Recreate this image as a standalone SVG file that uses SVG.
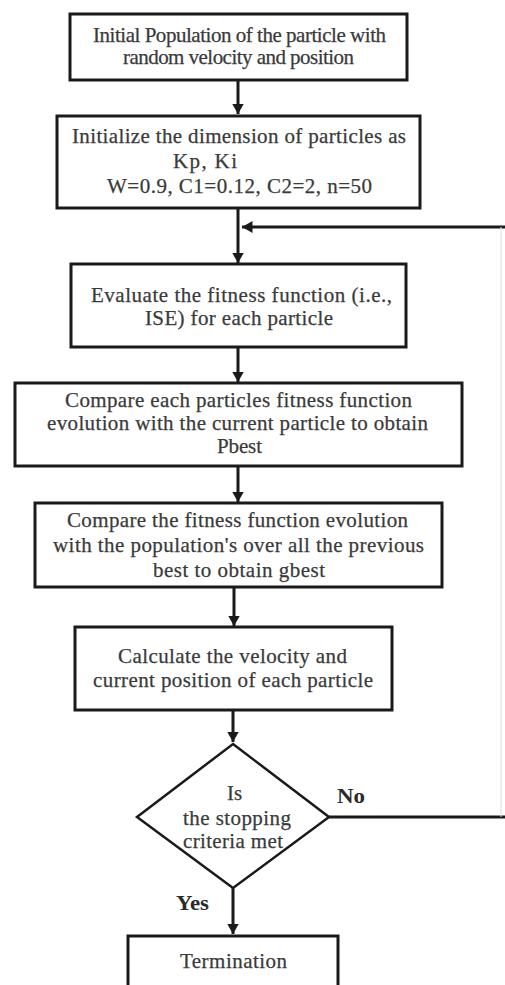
<svg xmlns="http://www.w3.org/2000/svg" width="505" height="985" viewBox="0 0 505 985">
<style>
.box{fill:#fff;stroke:#1a1a1a;stroke-width:3}
.t{font-family:'Liberation Serif','DejaVu Serif',serif;font-size:21px;fill:#3a3a3a;stroke:#3a3a3a;stroke-width:0.25;text-anchor:middle}
.b{font-family:'Liberation Serif','DejaVu Serif',serif;font-size:20px;font-weight:bold;fill:#2a2a2a}
.ln{stroke:#1a1a1a;stroke-width:3;fill:none}
</style>
<defs>
<marker id="ah" markerWidth="4" markerHeight="4" refX="3.5" refY="2" orient="auto" markerUnits="strokeWidth">
<path d="M0,0 L3.5,2 L0,4 Z" fill="#1a1a1a"/>
</marker>
</defs>
<rect width="505" height="985" fill="#fff"/>
<g id="connectors">
<line class="ln" x1="238" y1="80" x2="238" y2="114" marker-end="url(#ah)"/>
<line class="ln" x1="238" y1="208" x2="238" y2="263" marker-end="url(#ah)"/>
<line class="ln" x1="505" y1="227" x2="242" y2="227" marker-end="url(#ah)"/>
<line class="ln" x1="238" y1="347" x2="238" y2="382" marker-end="url(#ah)"/>
<line class="ln" x1="238" y1="466" x2="238" y2="502" marker-end="url(#ah)"/>
<line class="ln" x1="234" y1="587" x2="234" y2="626" marker-end="url(#ah)"/>
<line class="ln" x1="233" y1="710" x2="233" y2="742" marker-end="url(#ah)"/>
<line class="ln" x1="329" y1="817" x2="505" y2="817"/>
<line x1="501" y1="227" x2="501" y2="817" stroke="#ddd" stroke-width="1"/>
<line class="ln" x1="233" y1="888" x2="233" y2="934" marker-end="url(#ah)"/>
<text class="b" x="337" y="803" textLength="28" lengthAdjust="spacingAndGlyphs">No</text>
<text class="b" x="176" y="910" textLength="33" lengthAdjust="spacingAndGlyphs">Yes</text>
</g>
<g id="n1">
<rect class="box" x="70" y="14" width="337" height="66"/>
<text class="t" x="239.5" y="42" textLength="293" lengthAdjust="spacing">Initial Population of the particle with</text>
<text class="t" x="238.5" y="64" textLength="231" lengthAdjust="spacing">random velocity and position</text>
</g>
<g id="n2">
<rect class="box" x="57" y="116" width="363" height="92"/>
<text class="t" x="239" y="143" textLength="334" lengthAdjust="spacing">Initialize the dimension of particles as</text>
<text class="t" x="173" y="168" style="text-anchor:start" textLength="64" lengthAdjust="spacing">Kp, Ki</text>
<text class="t" x="239.5" y="193" textLength="265" lengthAdjust="spacing">W=0.9, C1=0.12, C2=2, n=50</text>
</g>
<g id="n3">
<rect class="box" x="71" y="264" width="335" height="83"/>
<text class="t" x="241.5" y="302" textLength="301" lengthAdjust="spacing">Evaluate the fitness function (i.e.,</text>
<text class="t" x="239" y="325" textLength="188" lengthAdjust="spacing">ISE) for each particle</text>
</g>
<g id="n4">
<rect class="box" x="15" y="383" width="447" height="83"/>
<text class="t" x="238.5" y="407" textLength="347" lengthAdjust="spacing">Compare each particles fitness function</text>
<text class="t" x="237.5" y="430" textLength="381" lengthAdjust="spacing">evolution with the current particle to obtain</text>
<text class="t" x="239.5" y="453" textLength="45" lengthAdjust="spacing">Pbest</text>
</g>
<g id="n5">
<rect class="box" x="35" y="503" width="407" height="84"/>
<text class="t" x="237.5" y="527" textLength="341" lengthAdjust="spacing">Compare the fitness function evolution</text>
<text class="t" x="238.5" y="552" textLength="371" lengthAdjust="spacing">with the population's over all the previous</text>
<text class="t" x="239" y="577" textLength="172" lengthAdjust="spacing">best to obtain gbest</text>
</g>
<g id="n6">
<rect class="box" x="75" y="627" width="317" height="83"/>
<text class="t" x="232.5" y="663" textLength="229" lengthAdjust="spacing">Calculate the velocity and</text>
<text class="t" x="233" y="687" textLength="280" lengthAdjust="spacing">current position of each particle</text>
</g>
<g id="n7">
<path class="box" d="M233,744 L329,817 L233,888 L137,817 Z" style="stroke-width:2.5"/>
<text class="t" x="234.5" y="800">Is</text>
<text class="t" x="237" y="825" textLength="108" lengthAdjust="spacing">the stopping</text>
<text class="t" x="233" y="848" textLength="100" lengthAdjust="spacing">criteria met</text>
</g>
<g id="n8">
<rect class="box" x="128" y="936" width="210" height="60"/>
<text class="t" x="233.5" y="968" textLength="107" lengthAdjust="spacing">Termination</text>
</g>
</svg>
